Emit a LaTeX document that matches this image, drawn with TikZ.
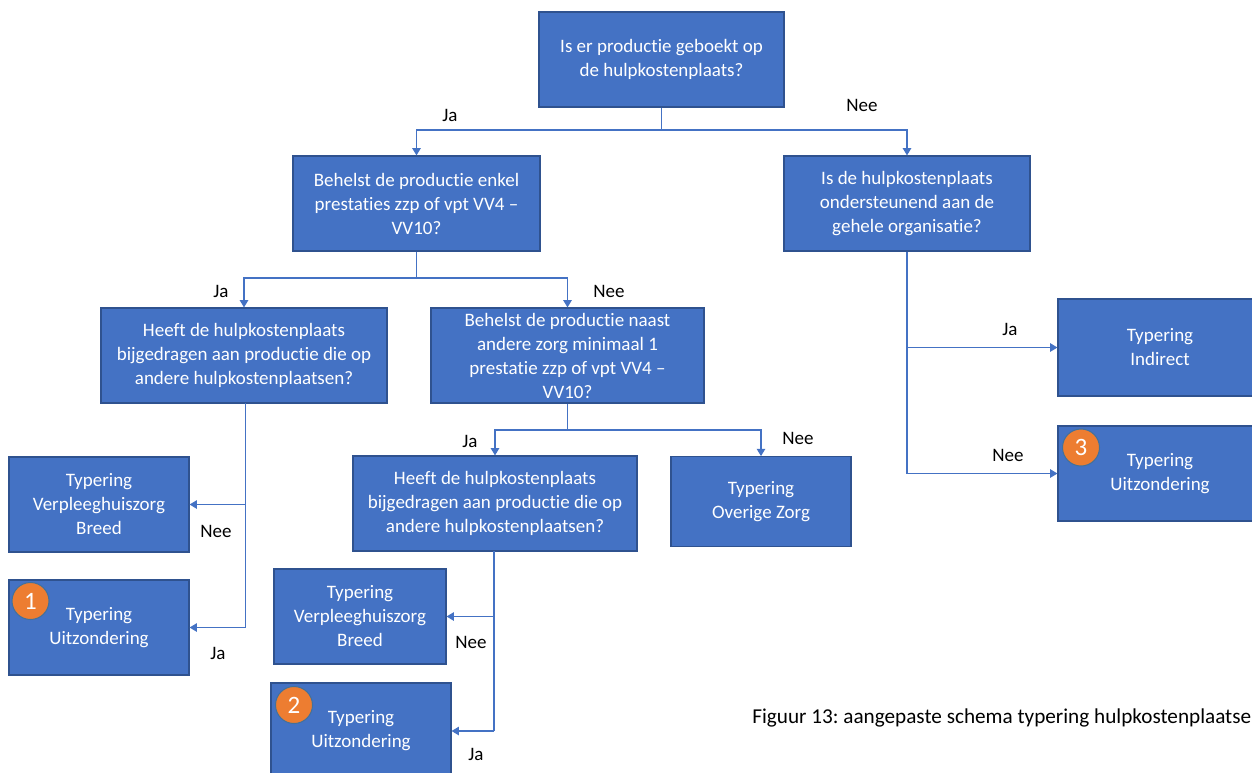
\documentclass[tikz,border=0pt]{standalone}
\usepackage{fontspec}
\setmainfont{Carlito}[Ligatures={NoCommon}]
\usetikzlibrary{arrows.meta}
\definecolor{boxblue}{HTML}{4472C4}
\definecolor{boxedge}{HTML}{2F528F}
\definecolor{badgeor}{HTML}{ED7D31}
\definecolor{badgeedge}{HTML}{41719C}
\frenchspacing
\begin{document}
\begin{tikzpicture}[x=0.5pt,y=-0.5pt,
  txt/.style={font=\fontsize{9.5}{12}\selectfont},
  box/.style={txt,draw=boxedge,fill=boxblue,text=white,align=center,inner sep=0pt,line width=0.6pt},
  sz/.style 2 args={minimum width=#1*0.5pt,minimum height=#2*0.5pt},
  conn/.style={draw=boxblue,line width=0.55pt},
  arr/.style={conn,-{Triangle[length=3.6pt,width=4.2pt]}},
  lbl/.style={txt,text=black,inner sep=0pt},
  badge/.style={circle,fill=badgeor,draw=badgeedge,line width=0.5pt,text=white,minimum size=18.5pt,inner sep=0pt,font=\fontsize{12.5}{14}\selectfont}]
\useasboundingbox (0,0) rectangle (1252,772);
\clip (0,0) rectangle (1252,772);
\fill[white] (0,0) rectangle (1252,772);

% boxes
\node[box,sz={245}{95}] (top) at (661.5,59.5) {Is er productie geboekt op\\de hulpkostenplaats?};
\node[box,sz={247}{95}] (A) at (416.5,203.5) {Behelst de productie enkel\\prestaties zzp of vpt VV4 –\\VV10?};
\node[box,sz={246}{95}] (B) at (907,203.5) {Is de hulpkostenplaats\\ondersteunend aan de\\gehele organisatie?};
\node[box,sz={286}{95}] (C) at (244,355.5) {Heeft de hulpkostenplaats\\bijgedragen aan productie die op\\andere hulpkostenplaatsen?};
\node[box,sz={273}{95}] (D) at (567.5,355.5) {Behelst de productie naast\\andere zorg minimaal 1\\prestatie zzp of vpt VV4 –\\VV10?};
\node[box,sz={180}{95}] (E) at (99,504.5) {Typering\\Verpleeghuiszorg\\Breed};
\node[box,sz={180}{95}] (F) at (99,627.5) {Typering\\Uitzondering};
\node[box,sz={284}{95}] (G) at (495,503.5) {Heeft de hulpkostenplaats\\bijgedragen aan productie die op\\andere hulpkostenplaatsen?};
\node[box,sz={180}{90}] (H) at (761,501.7) {Typering\\Overige Zorg};
\node[box,sz={172}{95}] (I) at (360,616.5) {Typering\\Verpleeghuiszorg\\Breed};
\node[box,sz={180}{96}] (J) at (361,731) {Typering\\Uitzondering};
\node[box,sz={204}{97}] (K) at (1160,347.5) {Typering\\Indirect};
\node[box,sz={204}{95}] (L) at (1160,473.5) {Typering\\Uitzondering};

% badges
\node[badge] (b1) at (30.5,601) {1};
\node[badge] (b2) at (294,705) {2};
\node[badge] (b3) at (1081,447.5) {3};

% connectors
\coordinate (j1) at (661.5,130);
\draw[conn] (top.south) -- (j1);
\draw[arr] (j1) -| (A.north);
\draw[arr] (j1) -| (B.north);

\coordinate (j2) at (416.5,278);
\draw[conn] (A.south) -- (j2);
\draw[arr] (j2) -| (C.north);
\draw[arr] (j2) -| (D.north);

\coordinate (j3) at (567.5,430);
\draw[conn] (D.south) -- (j3);
\draw[arr] (j3) -| (G.north);
\draw[arr] (j3) -| (H.north);

\coordinate (c1) at (245.5,403);
\coordinate (c2) at (245.5,627.5);
\draw[conn] (c1) -- (c2);
\draw[arr] (c1 |- E.east) -- (E.east);
\draw[arr] (c2) -- (F.east);

\coordinate (g1) at (494,551);
\coordinate (g2) at (494,731);
\draw[conn] (g1) -- (g2);
\draw[arr] (g1 |- I.east) -- (I.east);
\draw[arr] (g2) -- (J.east);

\coordinate (k1) at (907,473.5);
\draw[conn] (B.south) -- (k1);
\draw[arr] (B.south |- K.west) -- (K.west);
\draw[arr] (k1) -- (L.west);

% labels
\node[lbl] (l1) at (450,115) {Ja};
\node[lbl] (l2) at (862,105) {Nee};
\node[lbl] (l3) at (221,291) {Ja};
\node[lbl] (l4) at (609,291) {Nee};
\node[lbl] (l5) at (216,531) {Nee};
\node[lbl] (l6) at (218,653) {Ja};
\node[lbl] (l7) at (470,441) {Ja};
\node[lbl] (l8) at (798,438) {Nee};
\node[lbl] (l9) at (471,642) {Nee};
\node[lbl] (l10) at (476,754) {Ja};
\node[lbl] (l11) at (1010,329) {Ja};
\node[lbl] (l12) at (1008,455) {Nee};

% caption
\node[lbl,anchor=west,font=\fontsize{10.6}{13}\selectfont] (cap) at (752,718) {Figuur 13: aangepaste schema typering hulpkostenplaatsen};
\end{tikzpicture}
\end{document}
